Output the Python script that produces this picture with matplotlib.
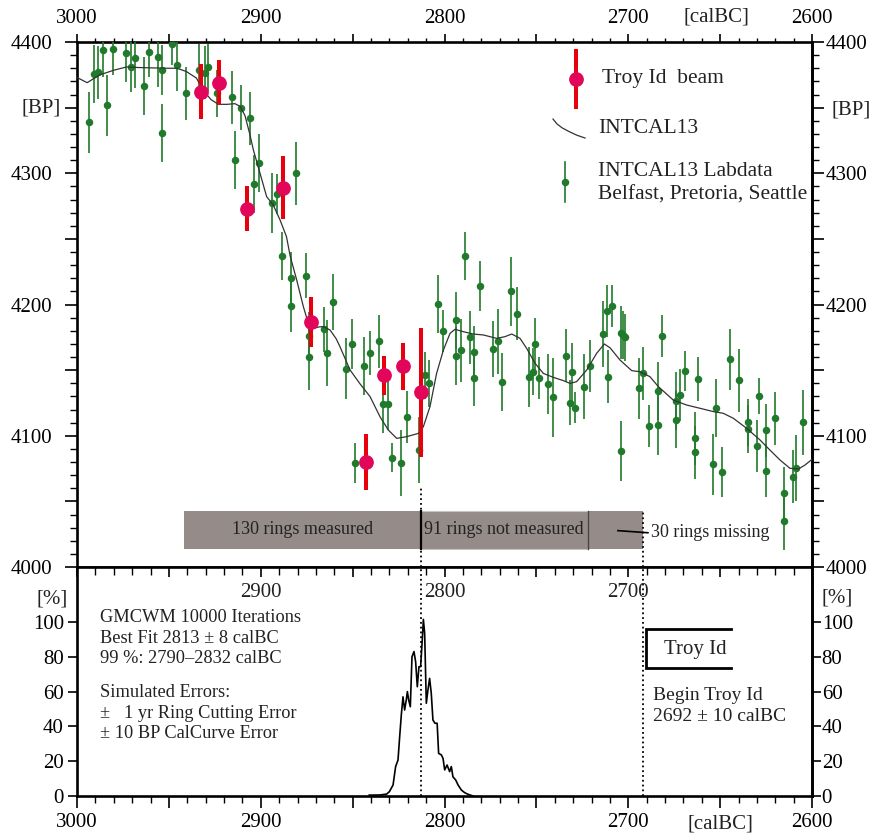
import matplotlib
matplotlib.use("Agg")
import matplotlib.pyplot as plt
from matplotlib.patches import Rectangle
from matplotlib.ticker import MultipleLocator, FixedLocator, FuncFormatter, NullFormatter

plt.rcParams["font.family"] = ["Liberation Serif", "DejaVu Serif"]

# INTCAL13 lab measurements (Belfast, Pretoria, Seattle): cal BC, BP, 1 sigma
lab_year = [2993.5, 2990.9, 2988.6, 2985.7, 2983.5, 2980.6, 2973.5, 2970.6, 2968.6, 2963.5,
            2960.6, 2955.7, 2953.6, 2953.6, 2948.5, 2945.6, 2940.7, 2933.4, 2930.3, 2928.5,
            2924.0, 2915.6, 2910.6, 2905.7, 2913.8, 2903.5, 2900.8, 2893.9, 2891.0, 2880.8,
            2888.6, 2883.7, 2883.7, 2875.6, 2873.6, 2873.6, 2865.6, 2863.8, 2860.7, 2853.6,
            2850.5, 2848.5, 2843.6, 2840.7, 2835.6, 2833.7, 2830.6, 2828.8, 2823.7, 2820.6,
            2813.9, 2810.4, 2808.6, 2803.7, 2800.6, 2793.7, 2793.7, 2790.8, 2788.6, 2786.0,
            2783.8, 2783.8, 2780.7, 2773.8, 2770.7, 2768.7, 2763.6, 2760.7, 2753.8, 2752.0,
            2750.7, 2748.8, 2743.9, 2740.8, 2733.7, 2731.9, 2730.8, 2728.8, 2723.9, 2720.8,
            2713.9, 2711.7, 2710.8, 2708.7, 2703.9, 2703.0, 2701.8, 2703.8, 2694.2, 2691.8,
            2688.9, 2683.8, 2683.8, 2681.8, 2674.0, 2674.0, 2671.8, 2668.9, 2663.9, 2663.9,
            2661.9, 2653.7, 2652.1, 2648.8, 2644.8, 2639.9, 2634.8, 2634.8, 2629.0, 2629.8,
            2625.0, 2625.0, 2620.0, 2615.2, 2615.2, 2610.2, 2608.9, 2605.1]
lab_bp = [4338.8, 4375.6, 4376.9, 4393.6, 4351.7, 4394.9, 4391.6, 4380.7, 4387.6, 4366.7,
          4392.6, 4388.8, 4378.7, 4330.9, 4398.7, 4382.7, 4360.9, 4378.7, 4376.6, 4380.7,
          4360.9, 4357.8, 4350.0, 4341.8, 4310.1, 4291.8, 4308.0, 4277.1, 4284.2, 4300.0,
          4237.0, 4219.9, 4198.8, 4222.0, 4176.0, 4160.2, 4181.1, 4163.0, 4201.9, 4151.1,
          4170.0, 4079.2, 4153.1, 4163.1, 4171.9, 4124.2, 4124.2, 4083.3, 4079.3, 4114.3,
          4089.1, 4146.0, 4139.9, 4200.1, 4180.1, 4187.9, 4161.0, 4165.1, 4236.9, 4175.0,
          4164.0, 4144.3, 4214.1, 4166.1, 4171.9, 4140.9, 4210.0, 4193.0, 4145.0, 4148.8,
          4169.9, 4144.3, 4139.2, 4129.3, 4161.0, 4125.2, 4148.8, 4121.4, 4137.4, 4153.1,
          4177.3, 4195.1, 4145.0, 4198.9, 4178.5, 4176.8, 4175.0, 4088.4, 4136.1, 4147.5,
          4107.4, 4134.1, 4108.4, 4176.3, 4126.5, 4112.3, 4131.0, 4149.3, 4098.0, 4087.4,
          4143.2, 4078.2, 4121.4, 4072.4, 4158.2, 4142.2, 4110.2, 4105.1, 4130.3, 4092.2,
          4104.1, 4073.4, 4113.3, 4056.1, 4035.3, 4068.8, 4075.2, 4110.2]
lab_err = [23, 22, 20, 20, 23, 20, 22, 19, 23, 22,
           19, 23, 19, 22, 16, 20, 20, 20, 20, 18,
           18, 20, 17, 20, 22, 22, 22, 23, 15, 24,
           18, 20, 20, 17, 18, 25, 17, 25, 21, 23,
           19, 15, 22, 17, 20, 22, 20, 11, 25, 20,
           25, 18, 18, 22, 16, 22, 22, 24, 18, 20,
           20, 22, 19, 21, 25, 22, 26, 20, 23, 18,
           20, 16, 23, 30, 20, 17, 22, 12, 25, 20,
           25, 20, 20, 16, 20, 18, 18, 23, 23, 20,
           16, 22, 23, 16, 22, 22, 20, 15, 20, 20,
           17, 23, 22, 19, 23, 24, 18, 18, 14, 20,
           20, 20, 20, 20, 22, 20, 25, 25]

# Troy Id beam samples
troy_year = [2932.7, 2922.5, 2907.3, 2888.0, 2872.5, 2842.7, 2832.7, 2822.8, 2812.8]
troy_bp = [4362, 4369, 4273, 4289, 4187, 4080, 4146, 4153, 4133]
troy_err = [21, 17, 17, 24, 19, 21, 15, 18, 49]

# INTCAL13 calibration curve
curve_year = [3000, 2994.5, 2987.5, 2980, 2973, 2965.5, 2951, 2945.5, 2940.5, 2935,
              2931.5, 2927, 2923, 2918.5, 2914, 2911.3, 2908.6, 2906, 2904, 2900.4,
              2896.8, 2893.2, 2889.5, 2886, 2884, 2880.5, 2876.8, 2874.1, 2871.4, 2868,
              2865.9, 2862.3, 2859, 2856.9, 2851.4, 2846, 2840.5, 2835.1, 2830.6, 2826,
              2820.6, 2814.2, 2811.5, 2807.9, 2804.3, 2800.6, 2797, 2794.3, 2789.8, 2784.3,
              2778.9, 2771.6, 2767.1, 2763.4, 2758.9, 2755.3, 2750.7, 2746.2, 2740.8, 2735.3,
              2731.7, 2728.1, 2722.6, 2717.2, 2713, 2709.9, 2704.5, 2698.1, 2693.6, 2688.2,
              2683.6, 2675.5, 2668.2, 2660.9, 2653.7, 2648.3, 2642.8, 2635.6, 2628.3, 2622.9,
              2617.4, 2612, 2607.4, 2603.8, 2600]
curve_bp = [4373, 4369, 4375, 4378.5, 4381, 4380.5, 4380, 4380, 4377.5, 4372.5,
            4363.5, 4356, 4352.5, 4352.5, 4353, 4351, 4344, 4330, 4317.7, 4300,
            4282.2, 4275.8, 4264.4, 4251.7, 4237, 4219, 4198.3, 4185.6, 4181.8, 4183,
            4183.1, 4180.6, 4174, 4167.9, 4150.1, 4139.6, 4129.8, 4114.5, 4104.4, 4098,
            4099.3, 4101.8, 4106.9, 4122.2, 4147.5, 4165.3, 4178, 4181.1, 4179.3, 4177.5,
            4176.8, 4174.2, 4175.5, 4177.5, 4174.2, 4166.6, 4155.2, 4147.5, 4144.5, 4142,
            4139.9, 4141.2, 4150.1, 4162.8, 4169.9, 4167, 4157.7, 4149.6, 4148.8, 4145,
            4137.4, 4127.2, 4123.4, 4120.9, 4118.4, 4117.1, 4113.3, 4105.7, 4096.8, 4089.1,
            4081.5, 4075.2, 4074.7, 4077.7, 4082]

# GMCWM wiggle-match distribution (% of maximum)
fit_year = [2841, 2835, 2831.5, 2830, 2828, 2826.6, 2825.3, 2824.4, 2823.5, 2822.6,
            2821.7, 2820.8, 2820.2, 2819.5, 2818.6, 2817.7, 2816.6, 2815.7, 2814.8, 2813.9,
            2813, 2812.1, 2811.5, 2810.8, 2809.9, 2809, 2808.1, 2807.2, 2806.3, 2805.2,
            2804, 2803.2, 2801.7, 2800.8, 2799.9, 2798.6, 2797.2, 2796.3, 2795.4, 2793.9,
            2792.6, 2790.8, 2789, 2787.2, 2784.5]
fit_pct = [0.5, 0.6, 1.1, 2.5, 6.3, 16.9, 20.7, 34, 46.6, 57,
           49.4, 55.2, 60, 55.2, 51.3, 80, 83, 77, 62.8, 74.3,
           74.3, 89.7, 101.5, 93.5, 53.3, 61, 67.6, 59, 43.7, 41.8,
           41.8, 24.5, 23.6, 21.6, 15, 17.8, 14, 16.9, 11, 9.2,
           6.3, 3.4, 1.9, 1, 0]

best_fit = 2813
troy_begin = 2692
rings_first = 2942
rings_last_measured = best_fit
rings_last_present = 2722

GREEN = "#217a2b"
BAR_RED = "#e8000f"
DOT_RED = "#e2065a"
BOX_GREY = "#958b89"
INK = "#222222"

W, H = 877, 839
fig = plt.figure(figsize=(W / 100, H / 100), dpi=100)


def px_box(x0, y0, x1, y1):
    return [x0 / W, 1 - y1 / H, (x1 - x0) / W, (y1 - y0) / H]


def hundreds(v, pos):
    return f"{v:.0f}" if abs(v / 100 - round(v / 100)) < 1e-6 else ""


ax = fig.add_axes(px_box(77, 42, 812, 567))
ax2 = fig.add_axes(px_box(77, 567, 812, 796))

for a in (ax, ax2):
    for s in a.spines.values():
        s.set_linewidth(1.9)
ax2.spines["top"].set_visible(False)

# ---- upper panel: calibration data ----
ax.set_xlim(3000, 2600)
ax.set_ylim(4000, 4400)
ax.xaxis.tick_top()
ax.xaxis.set_major_locator(MultipleLocator(50))
ax.xaxis.set_minor_locator(MultipleLocator(10))
ax.xaxis.set_major_formatter(FuncFormatter(hundreds))
ax.tick_params(axis="x", which="major", direction="out", length=5.8, width=1.2,
               labelsize=15, pad=4.5)
ax.tick_params(axis="x", which="minor", direction="out", length=3.2, width=1.0)
ax.yaxis.set_major_locator(MultipleLocator(50))
ax.yaxis.set_minor_locator(MultipleLocator(10))
ax.yaxis.set_major_formatter(FuncFormatter(hundreds))
ax.tick_params(axis="y", which="major", direction="out", length=8.6, width=1.2,
               labelsize=15, pad=9)
ax.tick_params(axis="y", which="minor", direction="out", length=5, width=1.0)

ry = ax.secondary_yaxis("right")
ry.spines["right"].set_linewidth(1.9)
ry.yaxis.set_major_locator(MultipleLocator(50))
ry.yaxis.set_minor_locator(MultipleLocator(10))
ry.yaxis.set_major_formatter(FuncFormatter(hundreds))
ry.tick_params(axis="y", which="major", direction="out", length=8.6, width=1.2,
               labelsize=15, pad=1)
ry.tick_params(axis="y", which="minor", direction="out", length=5, width=1.0)

ax.errorbar(lab_year, lab_bp, yerr=lab_err, fmt="o", ms=4.4, color=GREEN,
            ecolor=GREEN, elinewidth=1.2, capsize=0, zorder=3)
ax.plot(curve_year, curve_bp, color="#333333", lw=0.9, zorder=4)
ax.errorbar(troy_year, troy_bp, yerr=troy_err, fmt="o", ms=9.6, color=DOT_RED,
            ecolor=BAR_RED, elinewidth=2.9, capsize=0, zorder=5)

# ring sequence bar
ax.add_patch(Rectangle((rings_first, 4014), troy_begin - rings_first, 29,
                       facecolor=BOX_GREY, edgecolor="none", zorder=2))
ax.add_patch(Rectangle((rings_last_measured, 4014), rings_last_present - rings_last_measured, 29,
                       facecolor="none", edgecolor="#c9c2c1", lw=0.8, zorder=2))
ax.plot([rings_last_measured] * 2, [4014, 4043], color="k", lw=1.6, zorder=3)
ax.plot([rings_last_present] * 2, [4014, 4043], color="#4d4343", lw=1.0, zorder=3)
ax.text((rings_first + rings_last_measured) / 2, 4028.5, "130 rings measured",
        ha="center", va="center", fontsize=13, color=INK, zorder=4)
ax.text((rings_last_measured + rings_last_present) / 2, 4028.5, "91 rings not measured",
        ha="center", va="center", fontsize=13, color=INK, zorder=4)
ax.plot([2705.6, 2689.3], [4027.7, 4026.1], color="k", lw=1.2, zorder=4)
ax.text(2687.5, 4026.5, "30 rings missing", ha="left", va="center",
        fontsize=13, color=INK, zorder=4)

ax.plot([best_fit] * 2, [4000, 4060], color="k", ls=":", lw=1.3, zorder=4)
ax.plot([troy_begin] * 2, [4000, 4043], color="k", ls=":", lw=1.3, zorder=4)

# legend glyphs and labels
tr = ax.transAxes
ax.plot([0.6789, 0.6789], [0.8762, 0.9829], color=BAR_RED, lw=2.9, transform=tr)
ax.plot([0.6789], [0.9295], "o", ms=9.6, color=DOT_RED, transform=tr)
ax.plot([0.6476, 0.6530, 0.6600, 0.6700, 0.6800, 0.6912],
        [0.8533, 0.8440, 0.8365, 0.8290, 0.8225, 0.8171],
        color="#333333", lw=0.9, transform=tr)
ax.plot([0.6635, 0.6635], [0.6952, 0.7714], color=GREEN, lw=1.2, transform=tr)
ax.plot([0.6635], [0.7339], "o", ms=4.4, color=GREEN, transform=tr)
ax.text(0.7139, 0.9314, "Troy Id  beam", transform=tr, fontsize=15.5, color=INK,
        ha="left", va="center")
ax.text(0.7088, 0.8343, "INTCAL13", transform=tr, fontsize=15.5, color=INK,
        ha="left", va="center")
ax.text(0.7088, 0.7530, "INTCAL13 Labdata", transform=tr, fontsize=15.5, color=INK,
        ha="left", va="center")
ax.text(0.7088, 0.7086, "Belfast, Pretoria, Seattle", transform=tr, fontsize=15.5,
        color=INK, ha="left", va="center")

# ---- lower panel: wiggle-match distribution ----
ax2.set_xlim(3000, 2600)
ax2.set_ylim(0, 131.6)
ax2.xaxis.set_major_locator(MultipleLocator(50))
ax2.xaxis.set_minor_locator(MultipleLocator(10))
ax2.xaxis.set_major_formatter(FuncFormatter(hundreds))
ax2.tick_params(axis="x", which="major", direction="out", length=8.6, width=1.2,
                labelsize=15, pad=3.5)
ax2.tick_params(axis="x", which="minor", direction="out", length=5, width=1.0)
ax2.yaxis.set_major_locator(FixedLocator([0, 20, 40, 60, 80, 100]))
ax2.tick_params(axis="y", direction="out", length=6.5, width=1.2, labelsize=15, pad=3)

ry2 = ax2.secondary_yaxis("right")
ry2.spines["right"].set_linewidth(1.9)
ry2.yaxis.set_major_locator(FixedLocator([0, 20, 40, 60, 80, 100]))
ry2.tick_params(axis="y", direction="out", length=6.5, width=1.2, labelsize=15, pad=0.5)

tx2 = ax2.secondary_xaxis("top")
tx2.spines["top"].set_linewidth(1.9)
tx2.xaxis.set_major_locator(MultipleLocator(50))
tx2.xaxis.set_minor_locator(MultipleLocator(10))
tx2.xaxis.set_major_formatter(NullFormatter())
tx2.tick_params(axis="x", which="major", direction="in", length=7.2, width=1.2)
tx2.tick_params(axis="x", which="minor", direction="in", length=5.8, width=1.0)
for yr in (2900, 2800, 2700):
    ax2.text(yr, 0.8908, str(yr), transform=ax2.get_xaxis_transform(),
             ha="center", va="center", fontsize=15, color=INK)

ax2.plot(fit_year, fit_pct, color="k", lw=1.2)
ax2.axvline(best_fit, color="k", ls=":", lw=1.3)
ax2.axvline(troy_begin, color="k", ls=":", lw=1.3)

tr2 = ax2.transAxes
left_lines = [(0.7773, "GMCWM 10000 Iterations"),
              (0.6856, "Best Fit 2813 \u00b1 8 calBC"),
              (0.5983, "99 %: 2790\u20132832 calBC"),
              (0.4541, "Simulated Errors:"),
              (0.3624, "\u00b1   1 yr Ring Cutting Error"),
              (0.2751, "\u00b1 10 BP CalCurve Error")]
for yy, s in left_lines:
    ax2.text(0.0313, yy, s, transform=tr2, fontsize=13.2, color=INK,
             ha="left", va="center")

ax2.plot([0.8898, 0.7741, 0.7741, 0.8898], [0.7293, 0.7293, 0.5590, 0.5590],
         color="k", lw=2.0, transform=tr2, solid_joinstyle="miter")
ax2.text(0.8408, 0.6376, "Troy Id", transform=tr2, fontsize=15, color=INK,
         ha="center", va="center")
ax2.text(0.7837, 0.4410, "Begin Troy Id", transform=tr2, fontsize=14, color=INK,
         ha="left", va="center")
ax2.text(0.7837, 0.3450, "2692 \u00b1 10 calBC", transform=tr2, fontsize=14, color=INK,
         ha="left", va="center")

# axis unit labels
fig.text(41 / W, 1 - 108 / H, "[BP]", fontsize=15, color=INK, ha="center", va="center")
fig.text(851 / W, 1 - 110 / H, "[BP]", fontsize=15, color=INK, ha="center", va="center")
fig.text(52 / W, 1 - 599 / H, "[%]", fontsize=15, color=INK, ha="center", va="center")
fig.text(837 / W, 1 - 598 / H, "[%]", fontsize=15, color=INK, ha="center", va="center")
fig.text(716 / W, 1 - 17 / H, "[calBC]", fontsize=15, color=INK, ha="center", va="center")
fig.text(720 / W, 1 - 824 / H, "[calBC]", fontsize=15, color=INK, ha="center", va="center")

fig.savefig("out.png", dpi=100)
